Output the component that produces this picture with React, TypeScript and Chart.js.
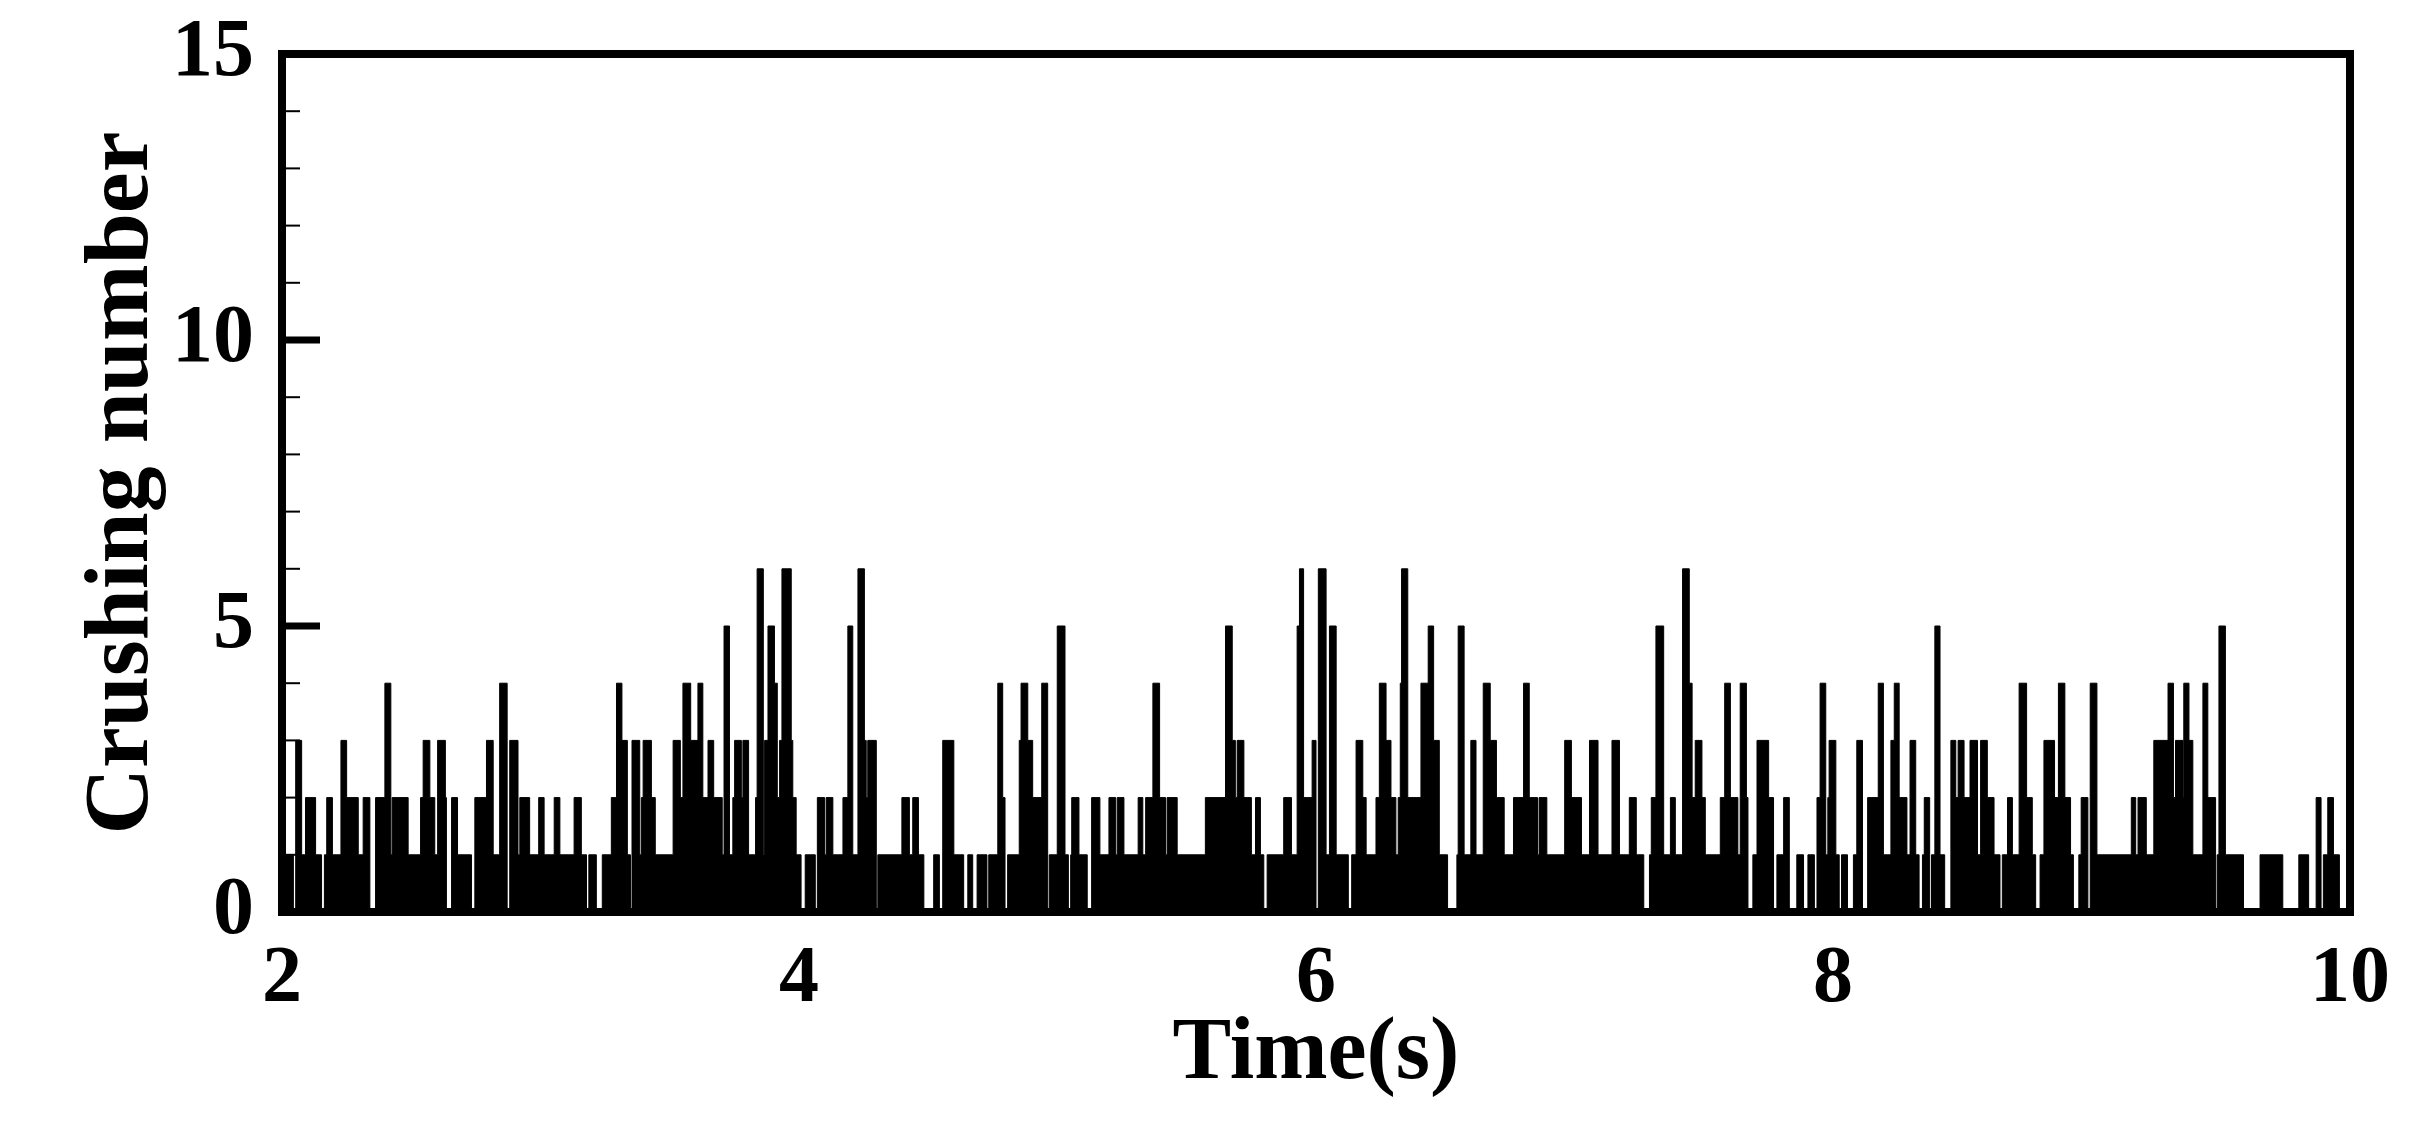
import { useEffect, useRef } from 'react';
import { Chart, registerables } from 'chart.js';

Chart.register(...registerables);

// Step change points: from each time on, the crushing number holds until the next time.
const changeTimes = [
  2.000, 2.044, 2.053, 2.076, 2.091, 2.130, 2.153, 2.164, 2.173, 2.195, 2.228, 2.250, 2.295, 2.314, 2.340, 2.362,
  2.398, 2.421, 2.426, 2.488, 2.536, 2.546, 2.572, 2.591, 2.602, 2.632, 2.636, 2.656, 2.679, 2.733, 2.746, 2.791,
  2.817, 2.842, 2.871, 2.881, 2.913, 2.920, 2.958, 2.993, 3.014, 3.053, 3.075, 3.130, 3.158, 3.178, 3.187, 3.216,
  3.239, 3.274, 3.294, 3.315, 3.336, 3.348, 3.354, 3.384, 3.390, 3.397, 3.429, 3.444, 3.513, 3.541, 3.551, 3.581,
  3.609, 3.628, 3.648, 3.670, 3.703, 3.710, 3.731, 3.744, 3.751, 3.777, 3.783, 3.805, 3.832, 3.838, 3.862, 3.867,
  3.880, 3.905, 3.916, 3.925, 3.934, 3.970, 3.976, 3.989, 4.008, 4.024, 4.063, 4.071, 4.099, 4.105, 4.131, 4.170,
  4.189, 4.208, 4.228, 4.253, 4.260, 4.266, 4.299, 4.305, 4.398, 4.427, 4.440, 4.462, 4.483, 4.521, 4.543, 4.556,
  4.599, 4.637, 4.653, 4.672, 4.689, 4.727, 4.734, 4.769, 4.788, 4.797, 4.807, 4.852, 4.859, 4.885, 4.904, 4.939,
  4.962, 4.968, 4.999, 5.029, 5.042, 5.051, 5.055, 5.083, 5.115, 5.132, 5.164, 5.199, 5.225, 5.231, 5.257, 5.312,
  5.330, 5.341, 5.369, 5.395, 5.418, 5.424, 5.463, 5.572, 5.650, 5.676, 5.688, 5.695, 5.721, 5.750, 5.766, 5.785,
  5.798, 5.811, 5.875, 5.905, 5.927, 5.936, 5.952, 5.985, 6.000, 6.009, 6.039, 6.052, 6.078, 6.125, 6.138, 6.155,
  6.181, 6.194, 6.232, 6.245, 6.271, 6.290, 6.309, 6.318, 6.326, 6.331, 6.355, 6.406, 6.434, 6.455, 6.477, 6.509,
  6.545, 6.550, 6.573, 6.599, 6.619, 6.647, 6.674, 6.698, 6.728, 6.764, 6.803, 6.825, 6.857, 6.863, 6.893, 6.962,
  6.988, 7.027, 7.058, 7.091, 7.145, 7.174, 7.212, 7.239, 7.268, 7.290, 7.297, 7.315, 7.345, 7.371, 7.390, 7.418,
  7.444, 7.455, 7.467, 7.493, 7.506, 7.564, 7.581, 7.603, 7.632, 7.641, 7.665, 7.671, 7.690, 7.706, 7.751, 7.770,
  7.783, 7.809, 7.831, 7.860, 7.886, 7.903, 7.928, 7.938, 7.950, 7.972, 7.980, 7.985, 8.011, 8.024, 8.033, 8.056,
  8.079, 8.092, 8.114, 8.134, 8.175, 8.195, 8.224, 8.237, 8.256, 8.286, 8.298, 8.320, 8.333, 8.346, 8.353, 8.374,
  8.381, 8.394, 8.414, 8.432, 8.456, 8.475, 8.484, 8.507, 8.530, 8.559, 8.571, 8.597, 8.623, 8.646, 8.655, 8.675,
  8.694, 8.720, 8.749, 8.771, 8.784, 8.801, 8.816, 8.857, 8.872, 8.897, 8.919, 8.930, 8.951, 8.960, 8.986, 8.995,
  9.021, 9.154, 9.171, 9.180, 9.212, 9.241, 9.296, 9.317, 9.325, 9.354, 9.357, 9.377, 9.392, 9.431, 9.450, 9.480,
  9.486, 9.493, 9.518, 9.588, 9.652, 9.740, 9.802, 9.840, 9.869, 9.888, 9.897, 9.914, 9.936, 9.959, 10.000,
];

const crushCounts = [
  1, 0, 3, 1, 2, 1, 0, 1, 2, 1, 3, 2, 1, 2, 0, 2,
  4, 1, 2, 1, 2, 3, 2, 1, 3, 2, 0, 2, 1, 0, 2, 3,
  1, 4, 0, 3, 1, 2, 1, 2, 1, 2, 1, 2, 1, 0, 1, 0,
  1, 2, 4, 3, 1, 0, 3, 1, 2, 3, 2, 1, 3, 2, 4, 3,
  4, 2, 3, 2, 1, 5, 1, 2, 3, 2, 3, 1, 2, 6, 1, 3,
  5, 4, 2, 3, 6, 3, 2, 1, 0, 1, 0, 2, 1, 2, 1, 2,
  5, 1, 6, 3, 2, 3, 0, 1, 2, 1, 2, 1, 0, 1, 0, 3,
  1, 0, 1, 0, 1, 0, 1, 4, 2, 0, 1, 3, 4, 3, 2, 4,
  0, 1, 5, 1, 0, 1, 2, 1, 0, 2, 1, 2, 1, 2, 1, 2,
  1, 2, 4, 2, 1, 2, 1, 2, 5, 3, 2, 3, 2, 1, 2, 1,
  0, 1, 2, 1, 5, 6, 2, 3, 0, 6, 1, 5, 1, 0, 1, 3,
  2, 1, 2, 4, 3, 2, 1, 2, 4, 6, 2, 4, 5, 3, 1, 0,
  1, 5, 1, 3, 1, 4, 3, 2, 1, 2, 4, 2, 1, 2, 1, 3,
  2, 1, 3, 1, 3, 1, 2, 1, 0, 1, 2, 5, 1, 2, 1, 6,
  4, 2, 3, 2, 1, 2, 4, 2, 1, 4, 2, 0, 1, 3, 2, 0,
  1, 2, 0, 1, 0, 1, 0, 2, 4, 1, 2, 3, 1, 0, 1, 0,
  1, 3, 0, 2, 4, 1, 3, 4, 2, 1, 3, 1, 0, 1, 2, 0,
  1, 5, 1, 0, 3, 2, 3, 2, 3, 1, 3, 2, 1, 0, 1, 2,
  1, 4, 2, 1, 0, 1, 3, 2, 4, 2, 1, 0, 1, 2, 0, 4,
  1, 2, 1, 2, 1, 3, 4, 2, 3, 2, 4, 3, 1, 4, 2, 0,
  1, 5, 1, 0, 1, 0, 1, 0, 2, 0, 1, 2, 1, 0, 0,
];

const xTickValues = [2, 4, 6, 8, 10];
const yTickValues = [0, 5, 10, 15];
const yMinorStep = 1;

const FONT = "'Liberation Serif', 'Times New Roman', serif";

const framePlugin = {
  id: 'frameAndTicks',
  afterDatasetsDraw(chart: any) {
    const { ctx, chartArea, scales } = chart;
    const { left, right, top, bottom } = chartArea;
    const y = scales.y;
    ctx.save();
    ctx.strokeStyle = '#000';
    for (let v = y.min; v <= y.max; v += yMinorStep) {
      const py = y.getPixelForValue(v);
      const major = yTickValues.includes(v);
      ctx.lineWidth = major ? 7 : 2;
      ctx.beginPath();
      ctx.moveTo(left, py);
      ctx.lineTo(left + (major ? 38 : 18), py);
      ctx.stroke();
    }
    ctx.lineWidth = 8;
    ctx.strokeRect(left, top, right - left, bottom - top);
    ctx.restore();
  },
};

export default function App() {
  const canvasRef = useRef<HTMLCanvasElement | null>(null);

  useEffect(() => {
    if (!canvasRef.current) return;
    const points = changeTimes.map((t, i) => ({ x: t, y: crushCounts[i] }));
    const chart = new Chart(canvasRef.current, {
      type: 'line',
      data: {
        datasets: [
          {
            data: points,
            stepped: true,
            fill: 'origin',
            backgroundColor: '#000',
            borderColor: '#000',
            borderWidth: 1,
            pointRadius: 0,
          },
        ],
      },
      options: {
        animation: false,
        responsive: true,
        maintainAspectRatio: false,
        layout: { padding: { top: 54, right: 68, left: 0, bottom: 0 } },
        plugins: { legend: { display: false }, tooltip: { enabled: false } },
        scales: {
          x: {
            type: 'linear',
            min: 2,
            max: 10,
            afterFit: (s: any) => {
              s.height = 219;
              s.paddingLeft = 0;
              s.paddingRight = 0;
            },
            afterBuildTicks: (s: any) => { s.ticks = xTickValues.map((v) => ({ value: v })); },
            grid: { display: false, drawTicks: false },
            border: { display: false },
            ticks: {
              color: '#000',
              padding: 20,
              maxRotation: 0,
              font: { family: FONT, size: 80, weight: 'bold' },
            },
            title: {
              display: true,
              text: 'Time(s)',
              color: '#000',
              padding: { top: 0, bottom: 23 },
              font: { family: FONT, size: 88, weight: 'bold' },
            },
          },
          y: {
            min: 0,
            max: 15,
            afterFit: (s: any) => {
              s.width = 282;
              s.paddingTop = 0;
              s.paddingBottom = 0;
            },
            afterBuildTicks: (s: any) => { s.ticks = yTickValues.map((v) => ({ value: v })); },
            grid: { display: false, drawTicks: false },
            border: { display: false },
            ticks: {
              color: '#000',
              padding: 28,
              font: { family: FONT, size: 82, weight: 'bold' },
            },
            title: {
              display: true,
              text: 'Crushing number',
              color: '#000',
              padding: { top: 68, bottom: 0 },
              font: { family: FONT, size: 92, weight: 'bold' },
            },
          },
        },
      },
      plugins: [framePlugin],
    });
    return () => chart.destroy();
  }, []);

  return (
    <div style={{ position: 'fixed', left: 0, top: 0, width: 2418, height: 1131, background: '#fff' }}>
      <canvas ref={canvasRef} style={{ width: '100%', height: '100%' }} />
    </div>
  );
}
